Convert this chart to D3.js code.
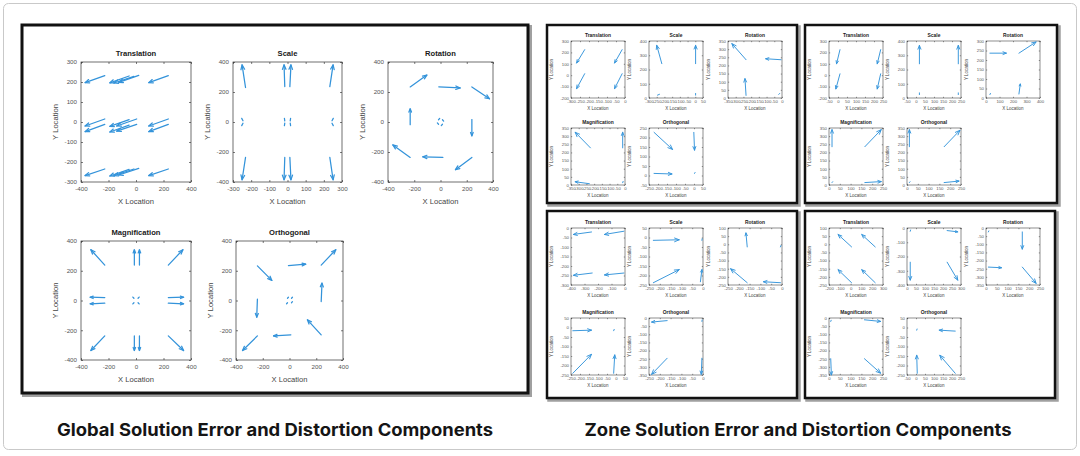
<!DOCTYPE html>
<html><head><meta charset="utf-8">
<script src="https://cdn.jsdelivr.net/npm/d3@7"></script>
<style>body{margin:0;background:#fff}svg{display:block}</style>
</head><body>
<svg id="c" width="1080" height="456"></svg>
<script>
// ---------- text ----------
const titles = ["Translation", "Scale", "Rotation", "Magnification", "Orthogonal"];
const xLabel = "X Location";
const yLabel = "Y Location";
const captions = ["Global Solution Error and Distortion Components", "Zone Solution Error and Distortion Components"];

// ---------- tick value lists ----------
const tM400_400_200 = [-400, -200, 0, 200, 400];
const tM300_300_100 = [-300, -200, -100, 0, 100, 200, 300];
const tM300_0_50 = [-300, -250, -200, -150, -100, -50, 0];
const tM300_50_50 = [-300, -250, -200, -150, -100, -50, 0, 50];
const tM350_0_50 = [-350, -300, -250, -200, -150, -100, -50, 0];
const tM250_0_50 = [-250, -200, -150, -100, -50, 0];
const tM250_50_50 = [-250, -200, -150, -100, -50, 0, 50];
const tM250_100_50 = [-250, -200, -150, -100, -50, 0, 50, 100];
const tM200_300_100 = [-200, -100, 0, 100, 200, 300];
const tM200_300_100y = [-200, -100, 0, 100, 200, 300];
const tM50_250_50 = [-50, 0, 50, 100, 150, 200, 250];
const tM400_0_100 = [-400, -300, -200, -100, 0];
const tM300_0_50b = [-300, -250, -200, -150, -100, -50, 0];
const tM250_100y = [-250, -200, -150, -100, -50, 0, 50, 100];
const t0_400_100 = [0, 100, 200, 300, 400];
const t0_350_50 = [0, 50, 100, 150, 200, 250, 300, 350];
const t0_300_50 = [0, 50, 100, 150, 200, 250, 300];
const t0_250_50 = [0, 50, 100, 150, 200, 250];
const tM50_250y = [-50, 0, 50, 100, 150, 200, 250];

// ---------- arrows [x0, y0, x1, y1] (tail -> head) ----------
// Global solution
const gTranslation = [
  [-227, 232, -370, 197], [-50, 230, -190, 196], [-15, 228, -160, 195], [20, 233, -125, 198], [235, 232, 93, 197],
  [-227, 15, -370, -20], [-227, -12, -370, -48], [-50, 12, -190, -22], [-50, -16, -190, -50],
  [5, 15, -140, -20], [5, -12, -140, -46], [235, 15, 93, -20], [235, -12, 93, -48],
  [-227, -235, -370, -268], [-50, -237, -190, -270], [-15, -235, -160, -268], [20, -232, -125, -265], [235, -235, 93, -268]
];
const gScale = [
  [-231, 230, -250, 381], [-15, 236, -19, 381], [13, 236, 19, 381], [233, 236, 251, 381],
  [-231, -236, -250, -385], [-15, -236, -19, -385], [13, -236, 19, -385], [233, -236, 251, -385],
  [-245, 8, -252, 24], [-245, -8, -252, -24], [-15, 8, -17, 24], [15, 8, 17, 24],
  [-15, -8, -17, -24], [15, -8, 17, -24], [245, 8, 252, 24], [245, -8, 252, -24]
];
const gRotation = [
  [-231, 234, -104, 313], [-13, 234, 150, 227], [239, 234, 373, 155],
  [-231, -18, -231, 88], [239, 16, 239, -92],
  [-231, -236, -363, -153], [18, -236, -135, -232], [239, -236, 114, -318],
  [-15, 15, -6, 24], [15, 15, 24, 6], [15, -15, 6, -24], [-15, -15, -24, -6]
];
const gMagnification = [
  [-227, 238, -328, 341], [-12, 238, -12, 341], [25, 238, 25, 341], [235, 238, 341, 341],
  [-227, 20, -333, 22], [-227, -18, -333, -22], [235, 20, 346, 22], [235, -18, 346, -22],
  [-227, -238, -328, -336], [-12, -238, -12, -336], [25, -238, 25, -336], [235, -238, 346, -336],
  [-15, 15, -23, 23], [15, 15, 23, 23], [-15, -15, -23, -23], [15, -15, 23, -23]
];
const gOrthogonal = [
  [-240, 233, -132, 135], [-8, 235, 121, 244], [237, 238, 346, 341],
  [-240, 9, -245, -112], [237, -7, 243, 117],
  [-240, -238, -351, -336], [10, -231, -119, -238], [237, -231, 134, -130],
  [-15, 15, -8, 22], [15, 15, 22, 22], [15, -15, 22, -8], [-15, -15, -22, -22]
];

// Zone A (top-left)
const zATranslation = [[-224, 224, -269, 107], [-16, 224, -58, 107], [-224, 13, -269, -118], [-16, 13, -58, -118]];
const zAScale = [[-217, 241, -250, 370], [2, 241, 2, 370], [-245, 20, -232, 26], [2, 20, 2, 32]];
const zARotation = [[-233, 235, -325, 334], [-6, 235, -106, 241], [-233, 16, -240, 119], [-21, 22, -15, 28]];
const zAMagnification = [[-224, 228, -323, 324], [-15, 228, -15, 324], [-231, 8, -323, 20], [-15, 14, -12, 22]];
const zAOrthogonal = [[-222, 227, -119, 137], [-1, 227, 3, 133], [-222, 11, -122, 8], [3, 11, 6, 16]];
// Zone B (top-right)
const zBTranslation = [[11, 224, -8, 100], [237, 224, 218, 100], [11, 12, -12, -121], [237, 12, 218, -121]];
const zBScale = [[19, 240, 19, 369], [235, 240, 235, 369], [19, 24, 19, 36], [235, 24, 235, 36]];
const zBRotation = [[29, 236, 151, 236], [244, 236, 371, 295], [244, 21, 254, 74], [29, 18, 33, 24]];
const zBMagnification = [[14, 235, 14, 340], [166, 235, 242, 340], [166, 15, 242, 21], [14, 15, 17, 20]];
const zBOrthogonal = [[11, 235, 11, 340], [172, 235, 245, 336], [172, 15, 241, 24], [11, 15, 14, 20]];
// Zone C (bottom-left)
const zCTranslation = [[-248, -21, -382, -34], [-8, -17, -152, -34], [-243, -237, -382, -249], [-8, -237, -152, -247]];
const zCScale = [[-230, -15, -110, -12], [-230, -238, -110, -169], [-12, -233, -5, -169], [-5, -15, -4, -7]];
const zCRotation = [[-161, -16, -167, 70], [-161, -236, -238, -150], [-7, -236, -86, -230], [-7, -16, -5, -8]];
const zCMagnification = [[-240, -17, -136, -14], [-240, -241, -136, -141], [-13, -241, -7, -144], [-13, -17, -10, -10]];
const zCOrthogonal = [[-166, -16, -238, -25], [-166, -247, -238, -346], [-5, -247, -8, -346], [-5, -21, -4, -12]];
// Zone D (bottom-right)
const zDTranslation = [[9, -16, -116, 60], [228, -16, 103, 60], [9, -236, -116, -156], [228, -236, 103, -156]];
const zDScale = [[18, -240, 18, -366], [223, -240, 282, -366], [223, -18, 282, -27], [18, -23, 20, -14]];
const zDRotation = [[168, -24, 168, -130], [168, -240, 232, -340], [11, -240, 72, -244], [11, -24, 13, -18]];
const zDMagnification = [[8, -250, 11, -350], [164, -250, 239, -339], [164, -11, 239, -21], [8, -21, 10, -14]];
const zDOrthogonal = [[218, -19, 129, -14], [218, -241, 132, -146], [7, -241, 4, -146], [4, -14, 6, -8]];

// ---------- subplot specs ----------
const globalSpecs = [
  {title: titles[0], xt: tM400_400_200, yt: tM300_300_100, arrows: gTranslation},
  {title: titles[1], xt: tM300_300_100, yt: tM400_400_200, arrows: gScale},
  {title: titles[2], xt: tM400_400_200, yt: tM400_400_200, arrows: gRotation},
  {title: titles[3], xt: tM400_400_200, yt: tM400_400_200, arrows: gMagnification},
  {title: titles[4], xt: tM400_400_200, yt: tM400_400_200, arrows: gOrthogonal}
];
const zoneSpecs = [
  [ {title: titles[0], xt: tM300_0_50, yt: tM200_300_100y, arrows: zATranslation},
    {title: titles[1], xt: tM300_50_50, yt: t0_400_100, arrows: zAScale},
    {title: titles[2], xt: tM350_0_50, yt: t0_350_50, arrows: zARotation},
    {title: titles[3], xt: tM350_0_50, yt: t0_350_50, arrows: zAMagnification},
    {title: titles[4], xt: tM250_50_50, yt: tM50_250y, arrows: zAOrthogonal} ],
  [ {title: titles[0], xt: tM50_250_50, yt: tM200_300_100y, arrows: zBTranslation},
    {title: titles[1], xt: tM50_250_50, yt: t0_400_100, arrows: zBScale},
    {title: titles[2], xt: t0_400_100, yt: t0_300_50, arrows: zBRotation},
    {title: titles[3], xt: t0_250_50, yt: t0_350_50, arrows: zBMagnification},
    {title: titles[4], xt: t0_250_50, yt: t0_350_50, arrows: zBOrthogonal} ],
  [ {title: titles[0], xt: tM400_0_100, yt: tM300_0_50b, arrows: zCTranslation},
    {title: titles[1], xt: tM250_0_50, yt: tM250_50_50, arrows: zCScale},
    {title: titles[2], xt: tM250_0_50, yt: tM250_100y, arrows: zCRotation},
    {title: titles[3], xt: tM250_50_50, yt: tM250_50_50, arrows: zCMagnification},
    {title: titles[4], xt: tM250_0_50, yt: tM350_0_50, arrows: zCOrthogonal} ],
  [ {title: titles[0], xt: tM200_300_100, yt: tM250_100_50, arrows: zDTranslation},
    {title: titles[1], xt: t0_300_50, yt: tM400_0_100, arrows: zDScale},
    {title: titles[2], xt: t0_250_50, yt: tM350_0_50, arrows: zDRotation},
    {title: titles[3], xt: t0_250_50, yt: tM350_0_50, arrows: zDMagnification},
    {title: titles[4], xt: tM50_250_50, yt: tM250_50_50, arrows: zDOrthogonal} ]
];

// ---------- drawing ----------
const svg = d3.select("#c");
const FONT = "'Liberation Sans', Arial, sans-serif";
const BLUE = "#3393da";

svg.append("rect").attr("x", 3.5).attr("y", 3.5).attr("width", 1073).attr("height", 446)
  .attr("rx", 5).attr("fill", "#fff").attr("stroke", "#c9c9c9").attr("stroke-width", 1);

function panel(x, y, w, h, lw) {
  svg.append("rect").attr("x", x + 2).attr("y", y + 2).attr("width", w).attr("height", h)
    .attr("fill", "none").attr("stroke", "#a0a0a0").attr("stroke-width", lw + 1);
  svg.append("rect").attr("x", x).attr("y", y).attr("width", w).attr("height", h)
    .attr("fill", "#fff").attr("stroke", "#111").attr("stroke-width", lw);
}

function subplot(spec, box, st) {
  const g = svg.append("g");
  const xs = d3.scaleLinear().domain(d3.extent(spec.xt)).range([box.x, box.x + box.w]);
  const ys = d3.scaleLinear().domain(d3.extent(spec.yt)).range([box.y + box.h, box.y]);
  const fmt = d => String(d);

  const styleAxis = sel => {
    sel.select(".domain").remove();
    sel.selectAll(".tick line").attr("stroke", "#444").attr("stroke-width", st.boxW);
    sel.selectAll("text").attr("font-family", FONT).attr("font-size", st.tickFont).attr("fill", "#555");
  };
  g.append("g").attr("transform", `translate(0,${box.y + box.h})`)
    .call(d3.axisBottom(xs).tickValues(spec.xt).tickSize(-st.tick).tickPadding(st.padX).tickFormat(fmt)).call(styleAxis);
  g.append("g").attr("transform", `translate(${box.x},0)`)
    .call(d3.axisLeft(ys).tickValues(spec.yt).tickSize(-st.tick).tickPadding(st.padY).tickFormat(fmt)).call(styleAxis);
  g.append("g").attr("transform", `translate(0,${box.y})`)
    .call(d3.axisTop(xs).tickValues(spec.xt).tickSize(-st.tick).tickFormat("")).call(styleAxis);
  g.append("g").attr("transform", `translate(${box.x + box.w},0)`)
    .call(d3.axisRight(ys).tickValues(spec.yt).tickSize(-st.tick).tickFormat("")).call(styleAxis);

  g.append("rect").attr("x", box.x).attr("y", box.y).attr("width", box.w).attr("height", box.h)
    .attr("fill", "none").attr("stroke", "#333").attr("stroke-width", st.boxW);

  // quiver arrows
  const ag = g.append("g").attr("stroke", BLUE).attr("fill", "none")
    .attr("stroke-width", st.lw).attr("stroke-linecap", "round").attr("stroke-linejoin", "round");
  spec.arrows.forEach(a => {
    const x0 = xs(a[0]), y0 = ys(a[1]), x1 = xs(a[2]), y1 = ys(a[3]);
    const dx = x1 - x0, dy = y1 - y0, len = Math.hypot(dx, dy);
    ag.append("line").attr("x1", x0).attr("y1", y0).attr("x2", x1).attr("y2", y1);
    if (len > 4) {
      const hl = Math.min(st.headMax, Math.max(2, len * 0.22));
      const ang = Math.atan2(dy, dx), sp = 0.38;
      const p1 = [x1 - hl * Math.cos(ang - sp), y1 - hl * Math.sin(ang - sp)];
      const p2 = [x1 - hl * Math.cos(ang + sp), y1 - hl * Math.sin(ang + sp)];
      ag.append("polyline").attr("points", `${p1[0]},${p1[1]} ${x1},${y1} ${p2[0]},${p2[1]}`);
    }
  });

  const cx = box.x + box.w / 2, cy = box.y + box.h / 2;
  g.append("text").attr("x", cx).attr("y", box.y - st.titleGap).attr("text-anchor", "middle")
    .attr("font-family", FONT).attr("font-weight", "bold").attr("font-size", st.titleFont).attr("fill", "#1a1a1a")
    .text(spec.title);
  g.append("text").attr("x", cx).attr("y", box.y + box.h + st.xlGap).attr("text-anchor", "middle")
    .attr("font-family", FONT).attr("font-size", st.labFont).attr("fill", "#444").text(xLabel);
  g.append("text").attr("transform", `translate(${box.x - st.ylGap},${cy}) rotate(-90)`).attr("text-anchor", "middle")
    .attr("font-family", FONT).attr("font-size", st.labFont).attr("fill", "#444").text(yLabel);
}

// Global panel
panel(22, 25, 506, 368, 3);
const gStyle = {tick: 2, tickFont: 6.2, padX: 5, padY: 4, titleFont: 7.6, titleGap: 6, labFont: 7.6, xlGap: 22, ylGap: 23, lw: 1.25, boxW: 0.7, headMax: 9};
const gBoxes = [
  {x: 81, y: 62, w: 110, h: 120},
  {x: 233, y: 62, w: 109, h: 120},
  {x: 388, y: 62, w: 105, h: 120},
  {x: 81, y: 241, w: 110, h: 119},
  {x: 236, y: 241, w: 107, h: 119}
];
globalSpecs.forEach((s, i) => subplot(s, gBoxes[i], gStyle));

// Zone panels
const zPanels = [
  {x: 547, y: 25, w: 250, h: 178, rows: [16, 103]},
  {x: 805, y: 25, w: 252, h: 178, rows: [16, 103]},
  {x: 547, y: 211, w: 250, h: 187, rows: [17, 107]},
  {x: 805, y: 211, w: 250, h: 187, rows: [17, 107]}
];
const zCols = [24, 102, 181];
const zStyle = {tick: 1.2, tickFont: 4.3, padX: 2, padY: 2, titleFont: 4.9, titleGap: 4, labFont: 4.5, xlGap: 12, ylGap: 18, lw: 0.95, boxW: 0.55, headMax: 5};
zPanels.forEach((p, pi) => {
  panel(p.x, p.y, p.w, p.h, 2.5);
  zoneSpecs[pi].forEach((s, i) => {
    const r = i < 3 ? 0 : 1, c = i < 3 ? i : i - 3;
    subplot(s, {x: p.x + zCols[c], y: p.y + p.rows[r], w: 54, h: 57}, zStyle);
  });
});

// Captions
const capX = [275, 798], capW = [436, 427];
captions.forEach((t, i) => {
  svg.append("text").attr("x", capX[i]).attr("y", 436).attr("text-anchor", "middle")
    .attr("font-family", "Inter, 'Noto Sans', sans-serif")
    .attr("font-weight", "bold").attr("font-size", 17.5).attr("fill", "#151515")
    .attr("textLength", capW[i]).attr("lengthAdjust", "spacingAndGlyphs").text(t);
});
</script>
</body></html>
